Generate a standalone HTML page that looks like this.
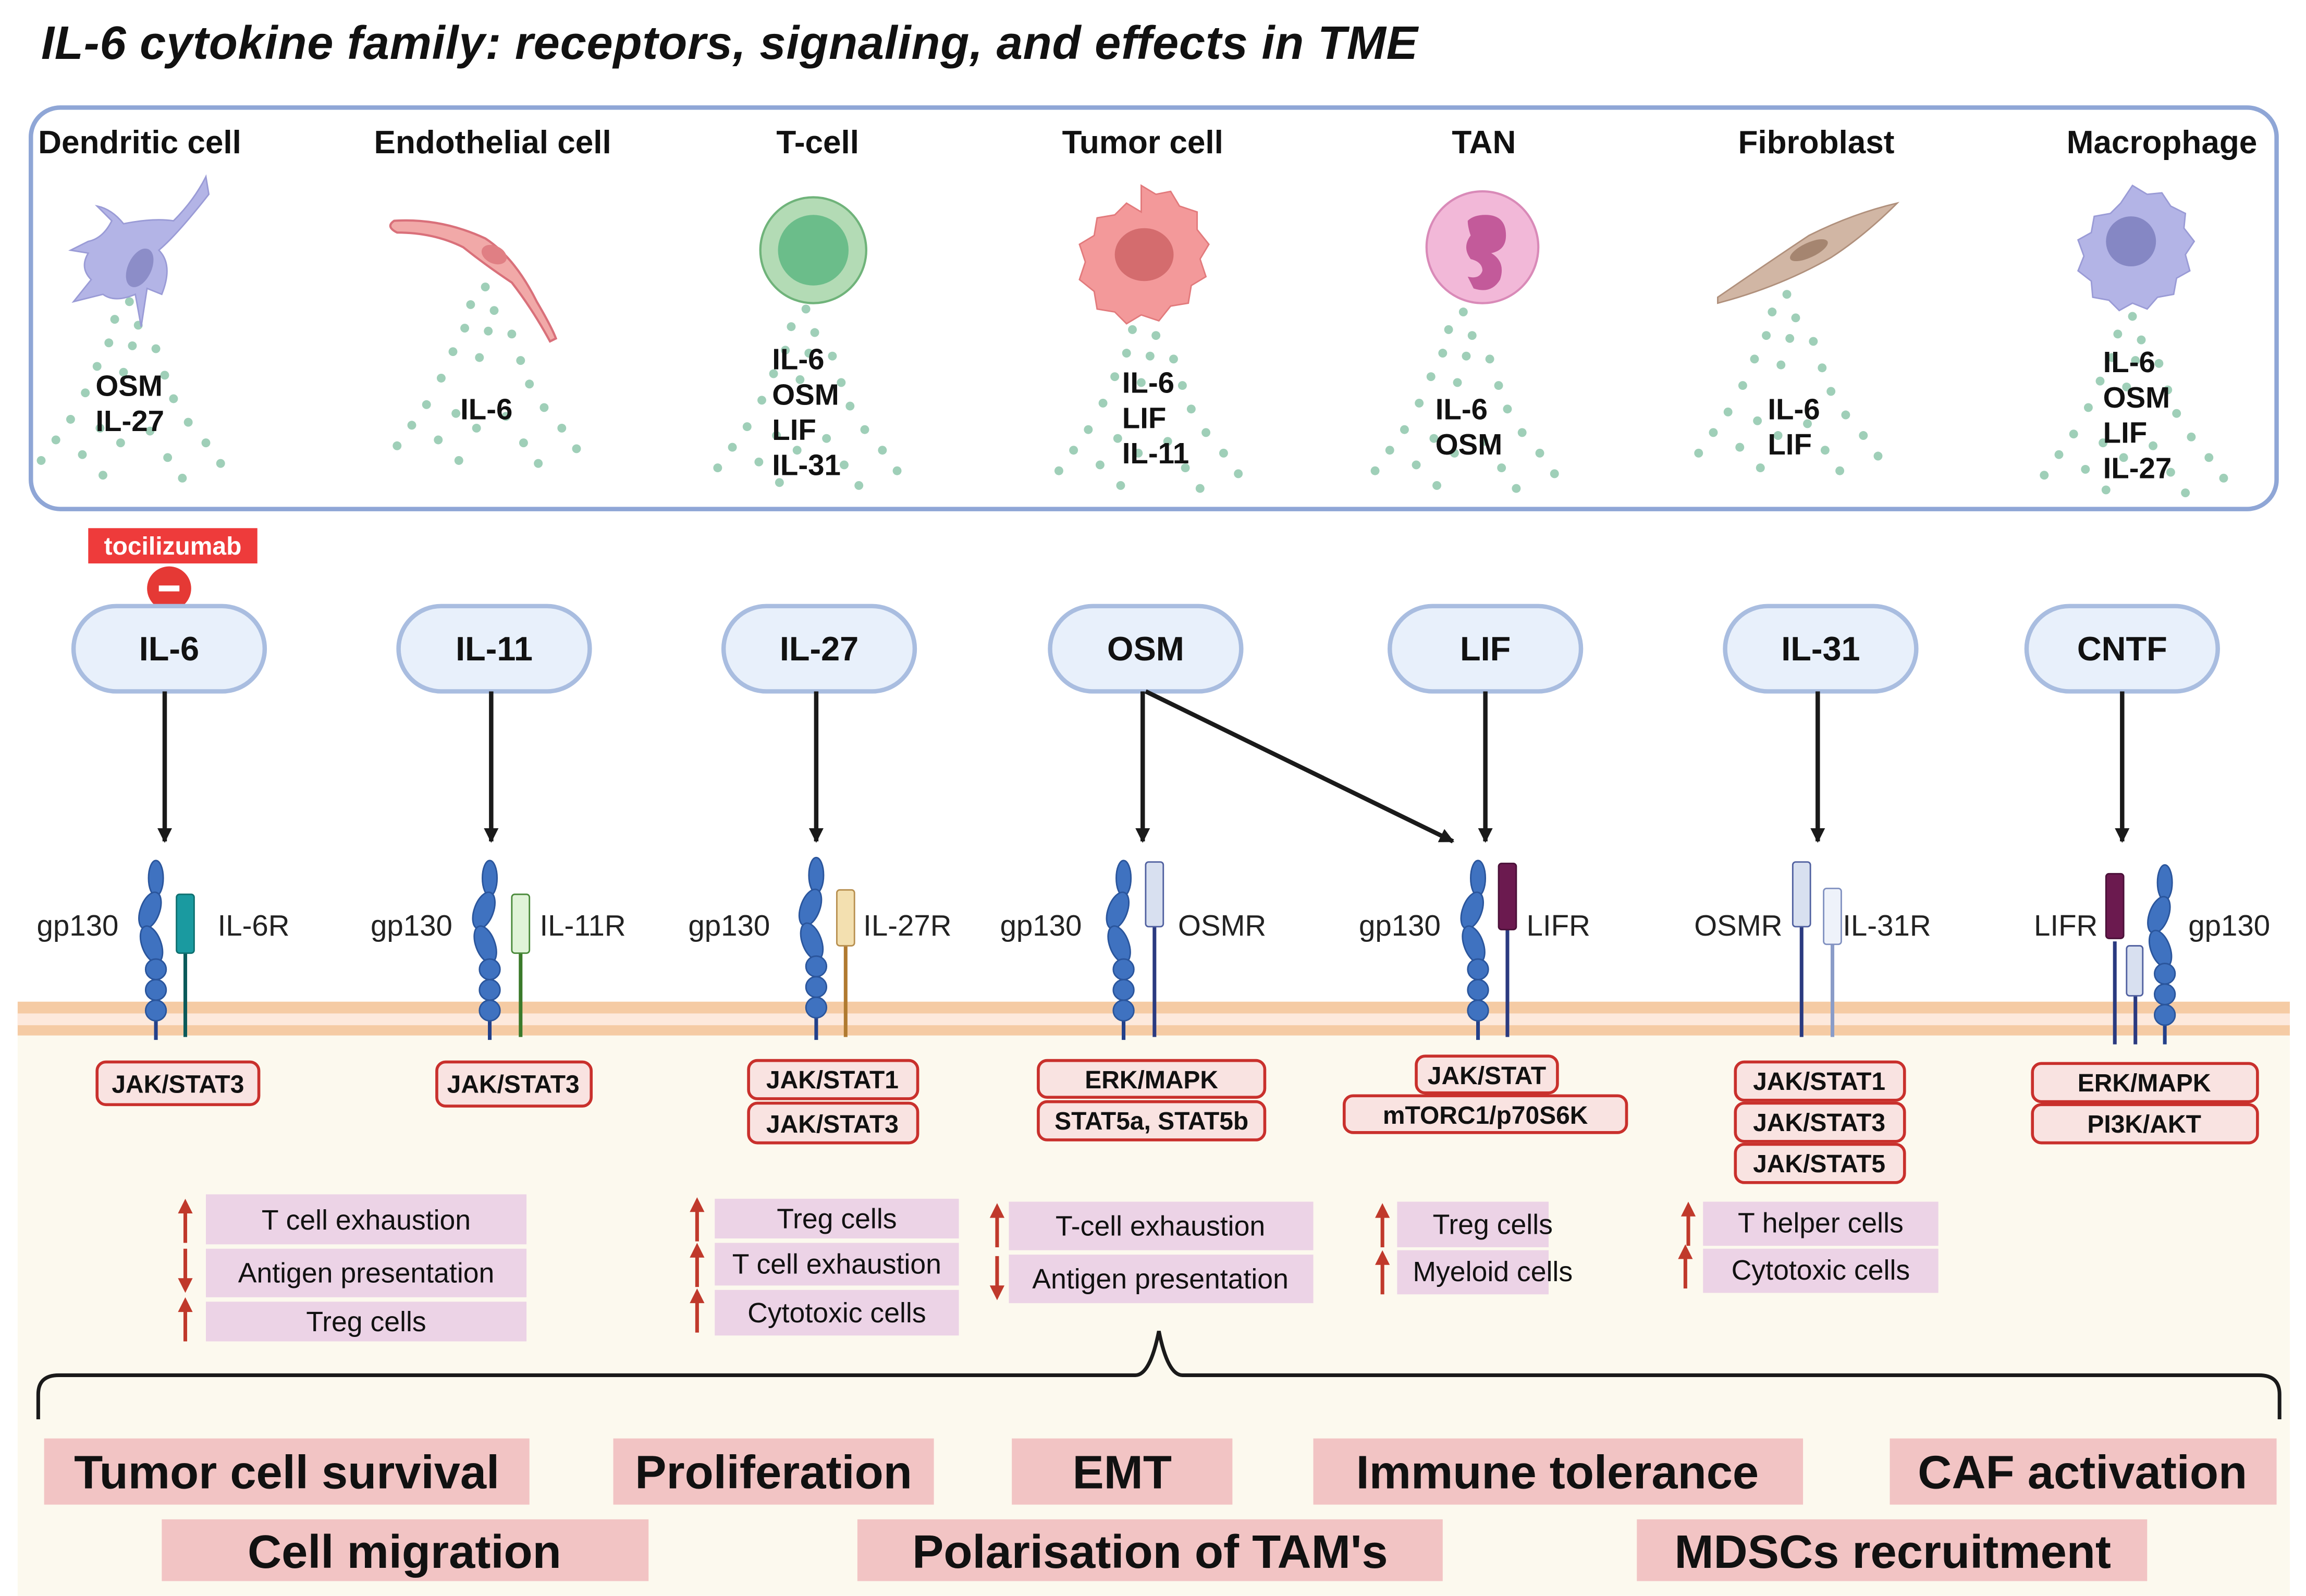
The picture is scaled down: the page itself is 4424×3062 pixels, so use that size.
<!DOCTYPE html>
<html><head><meta charset="utf-8"><style>
html,body{margin:0;padding:0;background:#fff}
svg{display:block}
text{font-family:"Liberation Sans",sans-serif}
</style></head><body>
<svg width="4424" height="3062" viewBox="0 0 1568 1085" xmlns="http://www.w3.org/2000/svg">
<defs>
<g id="gp">
<ellipse cx="0" cy="12" rx="5" ry="12" fill="#3f72c0" stroke="#2a559c" stroke-width="1"/>
<ellipse cx="-4" cy="34" rx="6.5" ry="13" transform="rotate(20 -4 34)" fill="#3f72c0" stroke="#2a559c" stroke-width="1"/>
<ellipse cx="-3" cy="57" rx="6.5" ry="13" transform="rotate(-20 -3 57)" fill="#3f72c0" stroke="#2a559c" stroke-width="1"/>
<circle cx="0" cy="74" r="7" fill="#3f72c0" stroke="#2a559c" stroke-width="1"/>
<circle cx="0" cy="88" r="7" fill="#3f72c0" stroke="#2a559c" stroke-width="1"/>
<circle cx="0" cy="102" r="7" fill="#3f72c0" stroke="#2a559c" stroke-width="1"/>
</g>
<g id="up"><line x1="0" y1="4" x2="0" y2="30" stroke="#c0392b" stroke-width="2.5"/><path d="M-5,10 L0,0 L5,10Z" fill="#c0392b"/></g>
<g id="dn"><line x1="0" y1="0" x2="0" y2="26" stroke="#c0392b" stroke-width="2.5"/><path d="M-5,20 L0,30 L5,20Z" fill="#c0392b"/></g>
<marker id="ah" markerWidth="10" markerHeight="10" refX="9" refY="5" orient="auto" markerUnits="userSpaceOnUse" viewBox="0 0 10 10"><path d="M0,0 L10,5 L0,10Z" fill="#1a1a1a"/></marker>
<g id="dots" fill="#9fcfb8">
<circle cx="0" cy="0" r="3"/><circle cx="-10" cy="12" r="3"/><circle cx="6" cy="16" r="3"/><circle cx="-14" cy="28" r="3"/><circle cx="2" cy="30" r="3"/><circle cx="18" cy="32" r="3"/><circle cx="-22" cy="44" r="3"/><circle cx="-4" cy="48" r="3"/><circle cx="24" cy="50" r="3"/><circle cx="-30" cy="62" r="3"/><circle cx="30" cy="66" r="3"/><circle cx="-40" cy="80" r="3"/><circle cx="40" cy="82" r="3"/><circle cx="-20" cy="86" r="3"/><circle cx="14" cy="88" r="3"/><circle cx="-50" cy="94" r="3"/><circle cx="-6" cy="96" r="3"/><circle cx="52" cy="96" r="3"/><circle cx="-32" cy="104" r="3"/><circle cx="26" cy="106" r="3"/><circle cx="-60" cy="108" r="3"/><circle cx="62" cy="110" r="3"/><circle cx="-18" cy="118" r="3"/><circle cx="36" cy="120" r="3"/></g>
</defs>

<text x="28" y="40" font-size="32" font-weight="bold" font-style="italic" fill="#111" textLength="936">IL-6 cytokine family: receptors, signaling, and effects in TME</text>

<rect x="21" y="73" width="1527" height="273" rx="20" fill="#fff" stroke="#8fa6d6" stroke-width="3"/>
<g font-size="22" font-weight="bold" fill="#111" text-anchor="middle">
<text x="95" y="104">Dendritic cell</text><text x="335" y="104">Endothelial cell</text><text x="556" y="104">T-cell</text><text x="777" y="104">Tumor cell</text><text x="1009" y="104">TAN</text><text x="1235" y="104">Fibroblast</text><text x="1470" y="104">Macrophage</text>
</g>
<use href="#dots" x="88" y="205"/><use href="#dots" x="330" y="195"/><use href="#dots" x="548" y="210"/><use href="#dots" x="780" y="212"/><use href="#dots" x="995" y="212"/><use href="#dots" x="1215" y="200"/><use href="#dots" x="1450" y="215"/>
<path d="M140,120 L142,132 Q120,160 108,170 Q118,180 110,200 L100,196 L96,222 L92,200 Q78,206 70,200 L50,205 L62,190 Q54,182 60,172 L48,170 L60,164 Q70,162 76,150 L66,140 Q76,142 84,152 Q104,148 118,150 Q132,136 140,120Z" fill="#b3b4e6" stroke="#9a9bd6"/>
<ellipse cx="95" cy="182" rx="8" ry="14" transform="rotate(25 95 182)" fill="#8c8dc8"/>
<path d="M268,150 Q300,148 330,162 Q350,175 365,205 Q375,222 378,230 L374,232 Q362,210 348,192 Q330,180 315,168 Q295,158 270,158 Q262,154 268,150Z" fill="#f1a9a8" stroke="#d9707a" stroke-width="1.5"/>
<ellipse cx="336" cy="173" rx="9" ry="6" transform="rotate(25 336 173)" fill="#e07f84"/>
<circle cx="553" cy="170" r="36" fill="#b3dbb5" stroke="#6fb37a" stroke-width="1.5"/><circle cx="553" cy="170" r="24" fill="#6bbd8a"/>
<path d="M776,126 l10,6 l10,-2 l6,10 l12,4 l0,12 l8,10 l-6,10 l4,12 l-10,6 l-2,12 l-12,2 l-8,10 l-12,-4 l-10,6 l-8,-8 l-12,-2 l-2,-12 l-10,-8 l4,-12 l-4,-12 l10,-6 l2,-12 l12,-2 l8,-8 l10,6Z" fill="#f3999a" stroke="#e27a7c"/>
<ellipse cx="778" cy="173" rx="20" ry="18" fill="#d46c6e"/>
<circle cx="1008" cy="168" r="38" fill="#f2b8d8" stroke="#d98ab8" stroke-width="1.5"/>
<path d="M1010,146 q14,0 14,14 q0,10 -10,12 q10,6 6,18 q-6,10 -18,6 l-4,-8 q8,2 10,-4 q0,-6 -8,-8 q-6,-8 0,-16 q-2,-6 -2,-10 q4,-4 12,-4Z" fill="#c35a9a"/>
<path d="M1168,202 Q1200,180 1230,160 Q1260,145 1290,138 Q1268,160 1245,175 Q1210,195 1168,206Z" fill="#d1b6a4" stroke="#b0907c"/>
<ellipse cx="1230" cy="170" rx="14" ry="5" transform="rotate(-25 1230 170)" fill="#a58570"/>
<path d="M1450,126 l10,6 l10,-1 l6,9 l10,5 l-1,10 l7,9 l-6,9 l3,11 l-9,5 l-2,11 l-11,2 l-7,8 l-10,-4 l-9,5 l-7,-7 l-11,-2 l-1,-11 l-9,-7 l4,-10 l-4,-11 l9,-5 l2,-11 l11,-2 l7,-7Z" fill="#b3b4e6" stroke="#9a9bd6"/>
<circle cx="1449" cy="164" r="17" fill="#8587c4"/>
<g font-size="20" font-weight="bold" fill="#111">
<text x="65" y="269">OSM</text><text x="65" y="293">IL-27</text>
<text x="313" y="285">IL-6</text>
<text x="525" y="251">IL-6</text><text x="525" y="275">OSM</text><text x="525" y="299">LIF</text><text x="525" y="323">IL-31</text>
<text x="763" y="267">IL-6</text><text x="763" y="291">LIF</text><text x="763" y="315">IL-11</text>
<text x="976" y="285">IL-6</text><text x="976" y="309">OSM</text>
<text x="1202" y="285">IL-6</text><text x="1202" y="309">LIF</text>
<text x="1430" y="253">IL-6</text><text x="1430" y="277">OSM</text><text x="1430" y="301">LIF</text><text x="1430" y="325">IL-27</text>
</g>

<rect x="60" y="359" width="115" height="24" fill="#ee3b3b"/>
<text x="117.5" y="377" font-size="17" font-weight="bold" fill="#fff" text-anchor="middle">tocilizumab</text>
<circle cx="115" cy="400" r="15" fill="#e53935"/><rect x="108" y="398" width="14" height="4" fill="#fff"/>

<g fill="#e8f0fb" stroke="#a9bde0" stroke-width="3">
<rect x="50" y="412" width="130" height="58" rx="29"/><rect x="271" y="412" width="130" height="58" rx="29"/><rect x="492" y="412" width="130" height="58" rx="29"/><rect x="714" y="412" width="130" height="58" rx="29"/><rect x="945" y="412" width="130" height="58" rx="29"/><rect x="1173" y="412" width="130" height="58" rx="29"/><rect x="1378" y="412" width="130" height="58" rx="29"/>
</g>
<g font-size="23" font-weight="bold" fill="#111" text-anchor="middle">
<text x="115" y="449">IL-6</text><text x="336" y="449">IL-11</text><text x="557" y="449">IL-27</text><text x="779" y="449">OSM</text><text x="1010" y="449">LIF</text><text x="1238" y="449">IL-31</text><text x="1443" y="449">CNTF</text>
</g>
<g stroke="#1a1a1a" stroke-width="3" marker-end="url(#ah)">
<line x1="112" y1="470" x2="112" y2="572"/><line x1="334" y1="470" x2="334" y2="572"/><line x1="555" y1="470" x2="555" y2="572"/><line x1="777" y1="470" x2="777" y2="572"/><line x1="779" y1="470" x2="988" y2="572"/><line x1="1010" y1="470" x2="1010" y2="572"/><line x1="1236" y1="470" x2="1236" y2="572"/><line x1="1443" y1="470" x2="1443" y2="572"/>
</g>

<rect x="12" y="704" width="1545" height="381" fill="#fcf9ee"/>
<rect x="12" y="681" width="1545" height="23" fill="#f5cba4"/>
<rect x="12" y="689" width="1545" height="8" fill="#fde9dc"/>

<g stroke="#23408a" stroke-width="2.5">
<line x1="106" y1="640" x2="106" y2="707"/><line x1="333" y1="640" x2="333" y2="707"/><line x1="555" y1="640" x2="555" y2="707"/><line x1="764" y1="640" x2="764" y2="707"/><line x1="1005" y1="640" x2="1005" y2="707"/><line x1="1472" y1="640" x2="1472" y2="710"/>
</g>
<use href="#gp" x="106" y="585"/><use href="#gp" x="333" y="585"/><use href="#gp" x="555" y="583"/><use href="#gp" x="764" y="585"/><use href="#gp" x="1005" y="585"/><use href="#gp" x="1472" y="588"/>
<line x1="126" y1="640" x2="126" y2="705" stroke="#0b5a5a" stroke-width="2.5"/><rect x="120" y="608" width="12" height="40" rx="2" fill="#1a9aa0" stroke="#0e7070"/>
<line x1="354" y1="640" x2="354" y2="705" stroke="#3a7a2a" stroke-width="2.5"/><rect x="348" y="608" width="12" height="40" rx="2" fill="#e0f3d8" stroke="#4a8a3a"/>
<line x1="575" y1="640" x2="575" y2="705" stroke="#b07a30" stroke-width="2.5"/><rect x="569" y="605" width="12" height="38" rx="2" fill="#f3e0b0" stroke="#b89050"/>
<line x1="785" y1="620" x2="785" y2="705" stroke="#2a3a80" stroke-width="2.5"/><rect x="779" y="586" width="12" height="44" rx="2" fill="#d8e0f0" stroke="#5060a0"/>
<line x1="1025" y1="620" x2="1025" y2="705" stroke="#2a3a80" stroke-width="2.5"/><rect x="1019" y="587" width="12" height="45" rx="2" fill="#6b1a4f" stroke="#4a1038"/>
<line x1="1225" y1="620" x2="1225" y2="705" stroke="#2a3a80" stroke-width="2.5"/><rect x="1219" y="586" width="12" height="44" rx="2" fill="#d8e0f0" stroke="#5060a0"/>
<line x1="1246" y1="630" x2="1246" y2="705" stroke="#8a9cc8" stroke-width="2.5"/><rect x="1240" y="604" width="12" height="38" rx="2" fill="#eef2fa" stroke="#8090c0"/>
<line x1="1438" y1="640" x2="1438" y2="710" stroke="#2a3a80" stroke-width="2.5"/><rect x="1432" y="594" width="12" height="44" rx="2" fill="#6b1a4f" stroke="#4a1038"/>
<line x1="1452" y1="660" x2="1452" y2="710" stroke="#2a3a80" stroke-width="2.5"/><rect x="1446" y="643" width="11" height="34" rx="2" fill="#d8e0f0" stroke="#5060a0"/>
<g font-size="20" fill="#222">
<text x="25" y="636">gp130</text><text x="148" y="636">IL-6R</text>
<text x="252" y="636">gp130</text><text x="367" y="636">IL-11R</text>
<text x="468" y="636">gp130</text><text x="587" y="636">IL-27R</text>
<text x="680" y="636">gp130</text><text x="801" y="636">OSMR</text>
<text x="924" y="636">gp130</text><text x="1038" y="636">LIFR</text>
<text x="1152" y="636">OSMR</text><text x="1253" y="636">IL-31R</text>
<text x="1383" y="636">LIFR</text><text x="1488" y="636">gp130</text>
</g>

<g fill="#f9e3e1" stroke="#c9302c" stroke-width="2">
<rect x="66" y="722" width="110" height="29" rx="6"/><rect x="297" y="722" width="105" height="30" rx="6"/>
<rect x="509" y="721" width="115" height="26" rx="6"/><rect x="509" y="750" width="115" height="27" rx="6"/>
<rect x="706" y="721" width="154" height="25" rx="6"/><rect x="706" y="749" width="154" height="26" rx="6"/>
<rect x="963" y="718" width="96" height="25" rx="6"/><rect x="914" y="745" width="192" height="25" rx="6"/>
<rect x="1180" y="722" width="115" height="26" rx="6"/><rect x="1180" y="750" width="115" height="26" rx="6"/><rect x="1180" y="778" width="115" height="26" rx="6"/>
<rect x="1382" y="723" width="153" height="26" rx="6"/><rect x="1382" y="751" width="153" height="26" rx="6"/>
</g>
<g font-size="17" font-weight="bold" fill="#111" text-anchor="middle">
<text x="121" y="743">JAK/STAT3</text><text x="349" y="743">JAK/STAT3</text>
<text x="566" y="740">JAK/STAT1</text><text x="566" y="770">JAK/STAT3</text>
<text x="783" y="740">ERK/MAPK</text><text x="783" y="768">STAT5a, STAT5b</text>
<text x="1011" y="737">JAK/STAT</text><text x="1010" y="764">mTORC1/p70S6K</text>
<text x="1237" y="741">JAK/STAT1</text><text x="1237" y="769">JAK/STAT3</text><text x="1237" y="797">JAK/STAT5</text>
<text x="1458" y="742">ERK/MAPK</text><text x="1458" y="770">PI3K/AKT</text>
</g>

<g fill="#ecd3e6">
<rect x="140" y="812" width="218" height="34"/><rect x="140" y="849" width="218" height="33"/><rect x="140" y="885" width="218" height="27"/>
<rect x="486" y="815" width="166" height="27"/><rect x="486" y="845" width="166" height="29"/><rect x="486" y="877" width="166" height="31"/>
<rect x="686" y="817" width="207" height="33"/><rect x="686" y="853" width="207" height="33"/>
<rect x="950" y="817" width="103" height="31"/><rect x="950" y="850" width="103" height="30"/>
<rect x="1158" y="817" width="160" height="30"/><rect x="1158" y="849" width="160" height="30"/>
</g>
<g font-size="19" fill="#111" text-anchor="middle">
<text x="249" y="836">T cell exhaustion</text><text x="249" y="872">Antigen presentation</text><text x="249" y="905">Treg cells</text>
<text x="569" y="835">Treg cells</text><text x="569" y="866">T cell exhaustion</text><text x="569" y="899">Cytotoxic cells</text>
<text x="789" y="840">T-cell exhaustion</text><text x="789" y="876">Antigen presentation</text>
<text x="1015" y="839">Treg cells</text><text x="1015" y="871">Myeloid cells</text>
<text x="1238" y="838">T helper cells</text><text x="1238" y="870">Cytotoxic cells</text>
</g>
<use href="#up" x="126" y="815"/><use href="#dn" x="126" y="849"/><use href="#up" x="126" y="882"/>
<use href="#up" x="474" y="814"/><use href="#up" x="474" y="845"/><use href="#up" x="474" y="876"/>
<use href="#up" x="678" y="818"/><use href="#dn" x="678" y="854"/>
<use href="#up" x="940" y="818"/><use href="#up" x="940" y="850"/>
<use href="#up" x="1148" y="817"/><use href="#up" x="1146" y="846"/>

<path d="M26,965 L26,948 Q26,935 40,935 L772,935 Q782,935 788,905 Q794,935 804,935 L1536,935 Q1550,935 1550,948 L1550,965" fill="none" stroke="#1a1a1a" stroke-width="2.5"/>

<g fill="#f2c4c4">
<rect x="30" y="978" width="330" height="45"/><rect x="417" y="978" width="218" height="45"/><rect x="688" y="978" width="150" height="45"/><rect x="893" y="978" width="333" height="45"/><rect x="1285" y="978" width="263" height="45"/>
<rect x="110" y="1033" width="331" height="42"/><rect x="583" y="1033" width="398" height="42"/><rect x="1113" y="1033" width="347" height="42"/>
</g>
<g font-size="32" font-weight="bold" fill="#111" text-anchor="middle">
<text x="195" y="1012">Tumor cell survival</text><text x="526" y="1012">Proliferation</text><text x="763" y="1012">EMT</text><text x="1059" y="1012">Immune tolerance</text><text x="1416" y="1012">CAF activation</text>
<text x="275" y="1066">Cell migration</text><text x="782" y="1066">Polarisation of TAM's</text><text x="1287" y="1066">MDSCs recruitment</text>
</g>
</svg>
</body></html>
